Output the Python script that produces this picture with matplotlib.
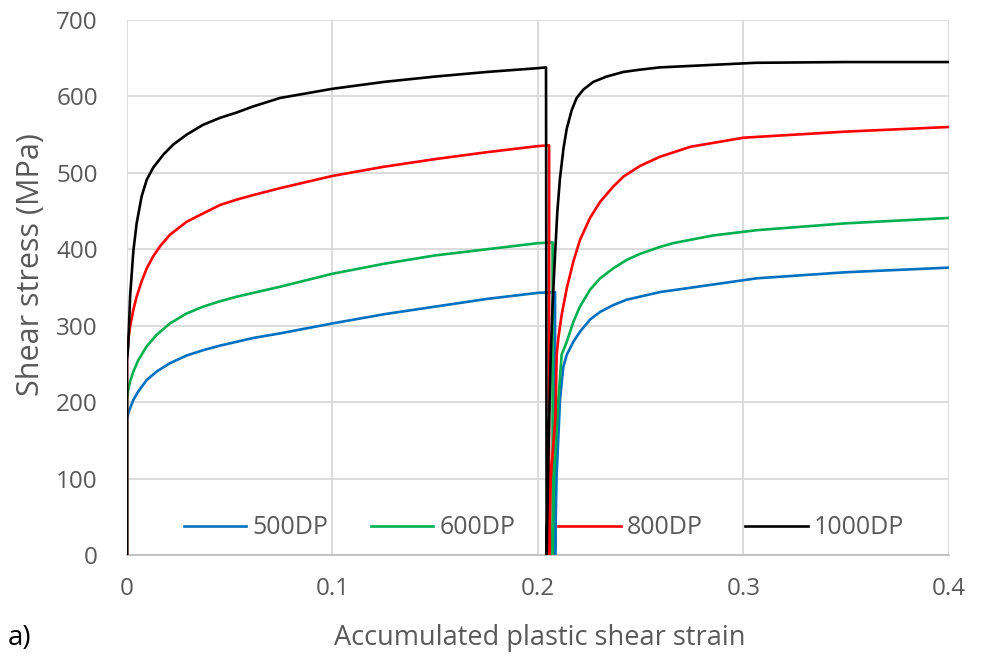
import matplotlib
matplotlib.use("Agg")
import matplotlib.pyplot as plt

# ---- data ----
labels = ["500DP", "600DP", "800DP", "1000DP"]
colors = ["#0070C0", "#00B050", "#FF0000", "#000000"]

x_500 = [0, 0, 0.0006, 0.0015, 0.0031, 0.0055, 0.0096, 0.0144, 0.0209, 0.029, 0.0371, 0.0453,
         0.0534, 0.0615, 0.0745, 0.1, 0.125, 0.15, 0.175, 0.2, 0.2083,
         0.2083, 0.2090, 0.2107, 0.2123, 0.214, 0.2172, 0.2204, 0.2253, 0.2302, 0.2366, 0.2431,
         0.2496, 0.2593, 0.3064, 0.35, 0.4]
y_500 = [0, 177, 185, 192, 203, 214, 229, 240, 251, 261, 268, 274,
         279, 284, 290, 303, 315, 325, 335, 343, 344,
         0, 100, 203, 246, 262, 279, 292, 308, 318, 327, 334,
         338, 344, 362, 370, 376]

x_600 = [0, 0, 0.0006, 0.0015, 0.0031, 0.0055, 0.0096, 0.0144, 0.0209, 0.029, 0.0371, 0.0453,
         0.0534, 0.0615, 0.0745, 0.1, 0.125, 0.15, 0.175, 0.2, 0.2071,
         0.2071, 0.2078, 0.2099, 0.2115, 0.214, 0.2172, 0.2204, 0.2253, 0.2302, 0.2366, 0.2431,
         0.2496, 0.2593, 0.2657, 0.285, 0.3064, 0.35, 0.4]
y_600 = [0, 203, 216, 227, 240, 255, 273, 288, 303, 316, 325, 332,
         338, 343, 351, 368, 381, 392, 400, 408, 409,
         0, 100, 203, 262, 279, 305, 325, 347, 362, 375, 386,
         394, 403, 408, 418, 425, 434, 441]

x_800 = [0, 0, 0.0006, 0.0015, 0.0031, 0.0047, 0.0071, 0.0096, 0.0128, 0.0161, 0.0209, 0.029,
         0.0371, 0.0453, 0.0534, 0.0615, 0.0745, 0.1, 0.125, 0.15, 0.175, 0.2, 0.2054,
         0.2054, 0.2062, 0.2085, 0.2091, 0.2099, 0.2115, 0.214, 0.2172, 0.2204, 0.2253, 0.2302,
         0.2366, 0.2415, 0.2496, 0.2593, 0.274, 0.3, 0.35, 0.4]
y_800 = [0, 257, 281, 299, 321, 338, 358, 375, 391, 404, 419, 436,
         447, 458, 465, 471, 480, 496, 508, 518, 527, 535, 536,
         0, 100, 181, 262, 284, 314, 349, 384, 412, 441, 462,
         482, 495, 509, 521, 534, 546, 554, 560]

x_1000 = [0, 0, 0.0006, 0.0015, 0.0031, 0.0047, 0.0071, 0.0096, 0.0128, 0.0177, 0.0225, 0.029,
          0.0371, 0.0453, 0.0534, 0.0615, 0.0745, 0.1, 0.125, 0.15, 0.175, 0.2, 0.2039,
          0.2042, 0.2052, 0.2062, 0.2071, 0.2083, 0.2094, 0.2107, 0.2124, 0.214, 0.2164, 0.2188,
          0.2221, 0.2269, 0.2334, 0.2415, 0.2496, 0.2593, 0.306, 0.35, 0.4]
y_1000 = [0, 255, 273, 338, 398, 434, 469, 491, 507, 524, 537, 550,
          563, 572, 579, 587, 598, 610, 619, 626, 632, 637, 638,
          0, 150, 262, 327, 393, 449, 493, 532, 558, 582, 598,
          609, 619, 626, 632, 635, 638, 644, 645, 645]

xs = [x_500, x_600, x_800, x_1000]
ys = [y_500, y_600, y_800, y_1000]

x_ticks = [0, 0.1, 0.2, 0.3, 0.4]
x_ticklabels = ["0", "0.1", "0.2", "0.3", "0.4"]
y_ticks = [0, 100, 200, 300, 400, 500, 600, 700]

# ---- figure ----
grey = "#595959"
fam = ["Open Sans", "DejaVu Sans"]
fig = plt.figure(figsize=(9.86, 6.59), dpi=100)
ax = fig.add_axes([127 / 986, 1 - 555 / 659, (949 - 127) / 986, (555 - 20) / 659])

for x, y, c, lab in zip(xs, ys, colors, labels):
    ax.plot(x, y, color=c, lw=1.9, label=lab, solid_joinstyle="round", zorder=3)

ax.set_xlim(0, 0.4)
ax.set_ylim(0, 700)
ax.set_xticks(x_ticks)
ax.set_xticklabels(x_ticklabels)
ax.set_yticks(y_ticks)
ax.grid(True, color="#D9D9D9", lw=1.3, zorder=0)
ax.set_axisbelow(True)
for s in ["top", "right", "left"]:
    ax.spines[s].set_visible(False)
ax.spines["bottom"].set_color("#BFBFBF")
ax.spines["bottom"].set_linewidth(1.3)
ax.tick_params(length=0)
ax.tick_params(axis="y", pad=21, labelsize=17.5, labelcolor=grey)
ax.tick_params(axis="x", pad=16, labelsize=17.5, labelcolor=grey)
for t in ax.get_yticklabels() + ax.get_xticklabels():
    t.set_family(fam)

fig.text(31 / 986, 1 - 265 / 659, "Shear stress (MPa)", rotation=90, ha="center", va="center",
         fontsize=22, color=grey, family=fam)
fig.text(540 / 986, 1 - 645 / 659, "Accumulated plastic shear strain", ha="center", va="baseline",
         fontsize=19.5, color=grey, family=fam)
fig.text(8 / 986, 1 - 645 / 659, "a)", ha="left", va="baseline", fontsize=20, color="black",
         family=fam)

leg = ax.legend(loc="center", bbox_to_anchor=((544 - 127) / 822, (555 - 528) / 535), ncol=4,
                frameon=False, handlelength=2.5, handletextpad=0.25,
                columnspacing=1.7, prop={"family": fam, "size": 18})
for t in leg.get_texts():
    t.set_color(grey)

fig.savefig("out.png", dpi=100)
